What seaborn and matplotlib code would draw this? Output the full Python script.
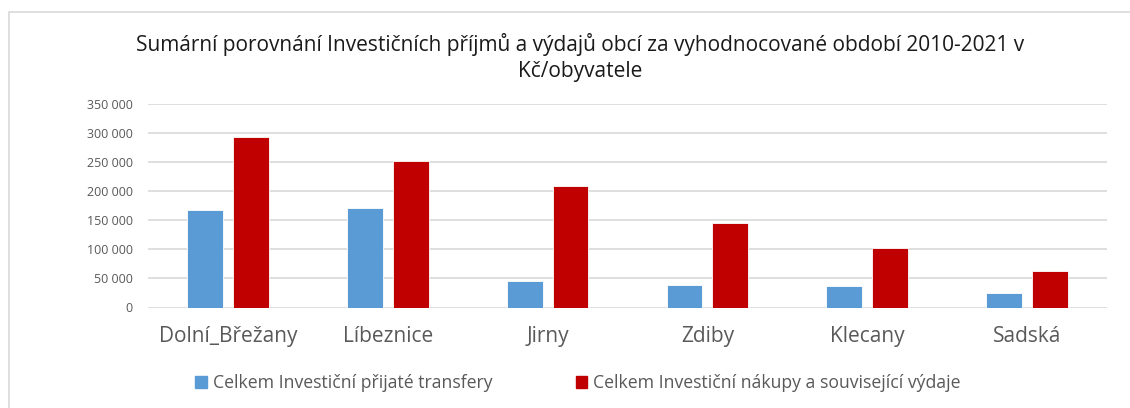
import matplotlib.pyplot as plt
import seaborn as sns
import pandas as pd
from matplotlib.patches import Rectangle
from matplotlib.ticker import FuncFormatter

# data
obce = ["Dolní_Břežany", "Líbeznice", "Jirny", "Zdiby", "Klecany", "Sadská"]
prijmy = [168000, 171000, 45000, 39500, 37000, 25000]
vydaje = [293500, 252500, 209000, 145500, 103000, 63500]
serie = ["Celkem Investiční přijaté transfery",
         "Celkem Investiční nákupy a související výdaje"]
barvy = ["#5B9BD5", "#C00000"]

df = pd.DataFrame({
    "obec": obce * 2,
    "hodnota": prijmy + vydaje,
    "serie": [serie[0]] * len(obce) + [serie[1]] * len(obce),
})

sns.set_style("white")
plt.rcParams["font.family"] = ["Open Sans", "DejaVu Sans"]

W, H = 1130, 408
fig = plt.figure(figsize=(W / 100, H / 100), dpi=100)
ax = fig.add_axes([148 / W, 1 - 307.5 / H, (1107 - 148) / W, (307.5 - 104) / H])

sns.barplot(data=df, x="obec", y="hodnota", hue="serie", palette=barvy,
            width=0.575, gap=0.22, ax=ax, legend=False, saturation=1)
for p in ax.patches:
    p.set_edgecolor("white")
    p.set_linewidth(0.6)

ax.set_ylim(0, 350000)
ax.set_yticks(range(0, 350001, 50000))
ax.yaxis.set_major_formatter(FuncFormatter(lambda v, _: f"{int(v):,}".replace(",", " ")))
ax.grid(axis="y", color="#d9d9d9", linewidth=1.2)
ax.set_axisbelow(True)
for s in ax.spines.values():
    s.set_visible(False)
ax.set_xlabel("")
ax.set_ylabel("")
ax.tick_params(axis="y", labelsize=9, colors="#595959", length=0, pad=11)
ax.tick_params(axis="x", labelsize=15, colors="#595959", length=0, pad=13)

fig.text(580 / W, 1 - 44 / H,
         "Sumární porovnání Investičních příjmů a výdajů obcí za vyhodnocované období 2010-2021 v",
         ha="center", va="center", fontsize=15, color="#1a1a1a")
fig.text(580 / W, 1 - 72 / H, "Kč/obyvatele",
         ha="center", va="center", fontsize=15, color="#1a1a1a")

# legend
handles = [Rectangle((0, 0), 1, 1, color=c) for c in barvy]
fig.legend(handles, serie, loc="center", bbox_to_anchor=(578 / W, 1 - 383 / H),
           ncol=2, frameon=False, fontsize=12.7, handlelength=0.65, handleheight=0.65,
           handletextpad=0.35, columnspacing=4.7, labelcolor="#595959")

# chart frame
fig.patches.append(Rectangle((9 / W, -0.1), 1.2, 1.1 - 12 / H, transform=fig.transFigure,
                             fill=False, edgecolor="#d9d9d9", linewidth=1.2))

fig.savefig("out.png", dpi=100)
